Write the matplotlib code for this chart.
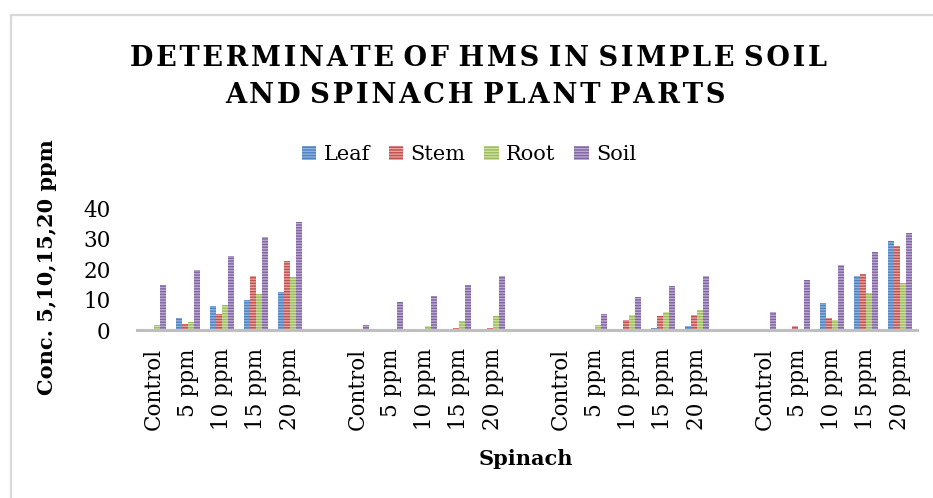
import matplotlib
matplotlib.use('Agg')
import matplotlib.pyplot as plt
import numpy as np
from matplotlib.patches import Rectangle

# ---------------- data ----------------
categories = ['Control', '5 ppm', '10 ppm', '15 ppm', '20 ppm']
n_groups = 4
series_names = ['Leaf', 'Stem', 'Root', 'Soil']
leaf = [0, 4.0, 7.9, 9.9, 12.6,
        0, 0, 0, 0, 0.3,
        0, 0, 0, 0.5, 1.4,
        0, 0, 9.0, 17.8, 29.3]
stem = [0.4, 1.9, 5.1, 17.7, 22.5,
        0, 0, 0, 0.6, 0.6,
        0, 0, 3.2, 4.6, 5.0,
        0, 1.4, 3.8, 18.5, 27.6]
root = [1.6, 2.6, 8.1, 11.8, 17.4,
        0, 0, 1.3, 3.0, 4.7,
        0, 1.8, 4.9, 5.9, 6.7,
        0, 0, 3.4, 12.1, 15.3]
soil = [14.9, 19.8, 24.3, 30.5, 35.4,
        1.6, 9.1, 11.1, 14.8, 17.6,
        0, 5.4, 10.7, 14.5, 17.7,
        5.8, 16.4, 21.3, 25.6, 31.7]
yticks = [0, 10, 20, 30, 40]
title_lines = ['DETERMINATE OF HMS IN SIMPLE SOIL', 'AND SPINACH PLANT PARTS']
ylabel = 'Conc. 5,10,15,20 ppm'
xlabel = 'Spinach'

# ---------------- style ----------------
face_colors = ['#4F81BD', '#C0504D', '#9BBB59', '#8064A2']
stripe_colors = ['#8DB3E2', '#E6A3A1', '#CFE0A8', '#BBA9D3']

plt.rcParams['font.family'] = ['DejaVu Serif', 'DejaVu Sans']
plt.rcParams['hatch.linewidth'] = 1.0

W, H = 933, 498
fig = plt.figure(figsize=(W / 100, H / 100), dpi=100)
fig.patch.set_facecolor('white')

# chart border (light gray)
fig.patches.append(Rectangle((10.5 / W, -0.05), 1.2, 1 - 15.5 / H + 0.05,
                             transform=fig.transFigure, fill=False,
                             edgecolor='#D9D9D9', linewidth=1.6))

ax = fig.add_axes([137 / W, 1 - 330 / H, 780 / W, 122 / H])

slots_per_group = len(categories) + 1
x = np.array([g * slots_per_group + c for g in range(n_groups) for c in range(len(categories))])
bw = 6 / 33.9
data = [leaf, stem, root, soil]
for i, (name, vals) in enumerate(zip(series_names, data)):
    ax.bar(x + (i - 1.5) * bw, vals, bw, color=face_colors[i],
           edgecolor=stripe_colors[i], linewidth=0, hatch='------', label=name)

ax.set_xlim(-0.5, n_groups * slots_per_group - 1.5)
ax.set_ylim(0, 40)
ax.set_yticks(yticks)
ax.set_xticks(x, labels=categories * n_groups, rotation=90)
ax.tick_params(length=0, labelsize=15.5)
ax.tick_params(axis='y', pad=19)
ax.tick_params(axis='x', pad=13)
for s in ['left', 'top', 'right']:
    ax.spines[s].set_visible(False)
ax.spines['bottom'].set_color('#BFBFBF')
ax.spines['bottom'].set_linewidth(2.2)

leg = ax.legend(ncol=4, loc='center', bbox_to_anchor=(469 / W, 1 - 155 / H),
                bbox_transform=fig.transFigure, frameon=False, fontsize=15,
                handlelength=0.7, handleheight=0.7, handletextpad=0.35,
                columnspacing=0.9, borderpad=0, borderaxespad=0)

fig.text(47 / W, 1 - 267 / H, ylabel, rotation=90, ha='center', va='center',
         fontsize=15, fontweight='bold')
fig.text(526 / W, 1 - 459 / H, xlabel, ha='center', va='center',
         fontsize=15, fontweight='bold')

renderer = fig.canvas.get_renderer()


def spaced(s):
    return ' '.join('\u200a'.join(list(w)) for w in s.split(' '))


title_pos = [(478.5, 66, 695), (475.5, 103, 499)]
for line, (cx, by, tw) in zip(title_lines, title_pos):
    t = fig.text(cx / W, 1 - by / H, spaced(line), ha='center', va='baseline',
                 fontsize=20, fontweight='bold')
    wpx = t.get_window_extent(renderer).width
    t.set_fontsize(20 * tw / wpx)

fig.savefig('out.png', dpi=100)
